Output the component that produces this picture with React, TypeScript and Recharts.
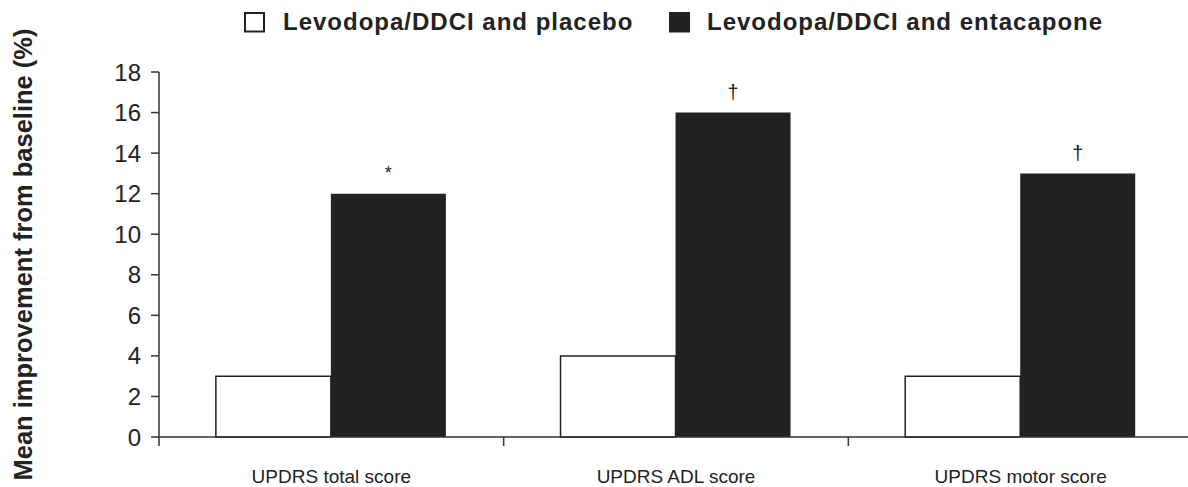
import { BarChart, Bar, XAxis, YAxis, Legend, LabelList } from "recharts";

const categories = ["UPDRS total score", "UPDRS ADL score", "UPDRS motor score"];
const placeboValues = [3, 4, 3];
const entacaponeValues = [12, 16, 13];
const significance = ["*", "†", "†"];
const yTicks = [0, 2, 4, 6, 8, 10, 12, 14, 16, 18];
const legendLabels = ["Levodopa/DDCI and placebo", "Levodopa/DDCI and entacapone"];

const data = categories.map((category, i) => ({
	category,
	placebo: placeboValues[i],
	entacapone: entacaponeValues[i],
	sig: significance[i],
}));

const FONT = '"Liberation Sans", Arial, Helvetica, sans-serif';
const INK = "#222";
const AXIS = "#333";

// category label plus the boundary tick marks between the groups
const CategoryTick = (props: any) => {
	const { x, y, payload, index, visibleTicksCount } = props;
	const half = payload?.offset ?? 0;
	return (
		<g>
			<line x1={x - half} y1={y} x2={x - half} y2={y + 9} stroke={AXIS} strokeWidth={1.5} />
			{index === visibleTicksCount - 1 && (
				<line x1={x + half} y1={y} x2={x + half} y2={y + 9} stroke={AXIS} strokeWidth={1.5} />
			)}
			<text x={x} y={y + 46} textAnchor="middle" fontSize={19} fill={INK} fontFamily={FONT}>
				{payload.value}
			</text>
		</g>
	);
};

const YLabel = (props: any) => {
	const { viewBox } = props;
	const cy = viewBox.y + viewBox.height / 2;
	const lx = viewBox.x + 32;
	return (
		<text
			x={lx}
			y={cy}
			transform={`rotate(-90, ${lx}, ${cy})`}
			textAnchor="middle"
			fontSize={25.5}
			fontWeight="bold"
			fill={INK}
			fontFamily={FONT}
		>
			Mean improvement from baseline (%)
		</text>
	);
};

const SigMark = (props: any) => {
	const { x, y, width, index } = props;
	const mark = significance[index];
	const isStar = mark === "*";
	return (
		<text
			x={x + width / 2}
			y={y - (isStar ? 14.5 : 13.2)}
			textAnchor="middle"
			fontSize={isStar ? 18 : 20}
			fill={INK}
			fontFamily={FONT}
		>
			{mark}
		</text>
	);
};

const CustomLegend = () => (
	<svg width={1188} height={45} style={{ display: "block" }}>
		<rect x={245} y={13} width={19} height={18.5} fill="#fff" stroke={INK} strokeWidth={2} />
		<text x={283} y={29.5} fontSize={24} fontWeight="bold" letterSpacing={1} fill={INK} fontFamily={FONT}>
			{legendLabels[0]}
		</text>
		<rect x={669} y={12} width={21} height={20.5} fill={INK} />
		<text x={707} y={29.5} fontSize={24} fontWeight="bold" letterSpacing={1} fill={INK} fontFamily={FONT}>
			{legendLabels[1]}
		</text>
	</svg>
);

export default function App() {
	return (
		<div style={{ position: "absolute", left: 0, top: 0, width: 1188, height: 487, background: "#fff" }}>
			<BarChart
				width={1188}
				height={487}
				data={data}
				margin={{ top: 72, right: -5, left: 0, bottom: 0 }}
				barCategoryGap="16.5%"
				barGap={0}
				style={{ fontFamily: FONT }}
			>
				<Legend
					content={<CustomLegend />}
					layout="horizontal"
					verticalAlign="middle"
					align="center"
					wrapperStyle={{ top: 0, left: 0, width: 1188, height: 45 }}
				/>
				<XAxis
					dataKey="category"
					height={50}
					interval={0}
					tickSize={0}
					tickMargin={0}
					tickLine={false}
					axisLine={{ stroke: AXIS, strokeWidth: 1.5 }}
					tick={<CategoryTick />}
				/>
				<YAxis
					width={159}
					domain={[0, 18]}
					ticks={yTicks}
					interval={0}
					tickSize={8}
					tickMargin={10}
					axisLine={{ stroke: AXIS, strokeWidth: 1.5 }}
					tickLine={{ stroke: AXIS, strokeWidth: 1.5 }}
					tick={{ fontSize: 24, fill: INK, fontFamily: FONT }}
					label={<YLabel />}
				/>
				<Bar dataKey="placebo" name={legendLabels[0]} fill="#fff" stroke={INK} strokeWidth={1.5} isAnimationActive={false} />
				<Bar dataKey="entacapone" name={legendLabels[1]} fill={INK} isAnimationActive={false}>
					<LabelList dataKey="sig" content={<SigMark />} />
				</Bar>
			</BarChart>
		</div>
	);
}
